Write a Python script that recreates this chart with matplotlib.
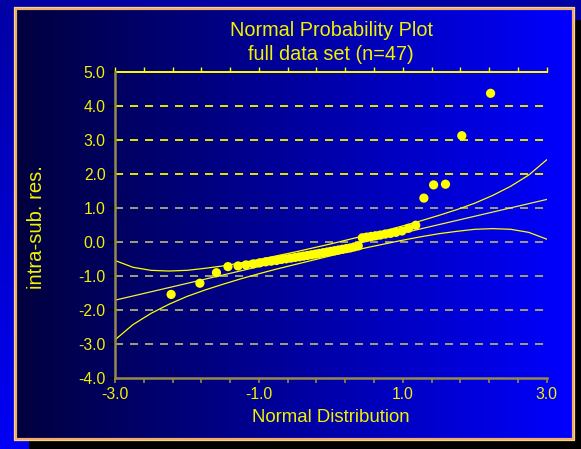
import numpy as np
import matplotlib
matplotlib.use("Agg")
import matplotlib.pyplot as plt
from matplotlib.patches import Rectangle

plt.rcParams['font.family'] = ['Liberation Sans', 'DejaVu Sans']
plt.rcParams['lines.scale_dashes'] = False

# ---- data -------------------------------------------------------------
# normal scores (x) and intra-subject residuals (y), n = 47
normal_scores = [-2.22, -1.82, -1.59, -1.43, -1.29, -1.18, -1.08, -0.99, -0.905, -0.83,
                 -0.756, -0.687, -0.621, -0.558, -0.497, -0.438, -0.38, -0.324, -0.268,
                 -0.213, -0.16, -0.106, -0.053, 0.0, 0.053, 0.106, 0.16, 0.213, 0.268,
                 0.324, 0.381, 0.438, 0.497, 0.558, 0.621, 0.687, 0.756, 0.829, 0.905,
                 0.988, 1.079, 1.18, 1.293, 1.428, 1.593, 1.82, 2.22]
residuals = [-1.55, -1.22, -0.91, -0.73, -0.71, -0.68, -0.65, -0.62, -0.59, -0.57,
             -0.55, -0.52, -0.50, -0.48, -0.46, -0.44, -0.42, -0.40, -0.38,
             -0.36, -0.34, -0.32, -0.30, -0.28, -0.26, -0.24, -0.22, -0.20, -0.18,
             -0.15, -0.12, 0.12, 0.14, 0.16, 0.18, 0.20, 0.23, 0.25, 0.28,
             0.32, 0.40, 0.49, 1.29, 1.68, 1.70, 3.13, 4.38]

# reference line (end points)
line_x = [-3.0, 3.0]
line_y = [-1.72, 1.25]

# confidence band
band_x = [-3.0, -2.75, -2.5, -2.25, -2.0, -1.75, -1.5, -1.25, -1.0, -0.75, -0.5, -0.25,
          0.0, 0.25, 0.5, 0.75, 1.0, 1.25, 1.5, 1.75, 2.0, 2.25, 2.5, 2.75, 3.0]
band_upper = [-0.55, -0.75, -0.84, -0.86, -0.84, -0.78, -0.71, -0.62, -0.52, -0.41, -0.30,
              -0.18, -0.06, 0.07, 0.20, 0.33, 0.47, 0.62, 0.78, 0.95, 1.14, 1.37, 1.64,
              1.97, 2.42]
band_lower = [-2.89, -2.44, -2.11, -1.84, -1.61, -1.42, -1.25, -1.09, -0.94, -0.80, -0.67,
              -0.54, -0.41, -0.29, -0.17, -0.06, 0.05, 0.15, 0.24, 0.31, 0.37, 0.39, 0.37,
              0.28, 0.08]

x_major = [-3.0, -1.0, 1.0, 3.0]
x_minor = [-3.0, -2.6, -2.2, -1.8, -1.4, -1.0, -0.6, -0.2, 0.2, 0.6, 1.0, 1.4, 1.8,
           2.2, 2.6, 3.0]
y_ticks = [-4.0, -3.0, -2.0, -1.0, 0.0, 1.0, 2.0, 3.0, 4.0, 5.0]

# ---- colours ----------------------------------------------------------
YELLOW = '#ffff00'
TEXT_YELLOW = '#f2f200'
GRID_YELLOW = '#e6e600'
GRID_GREY = '#a09f78'
KHAKI = '#958a48'

W, H = 581, 449
fig = plt.figure(figsize=(W / 100, H / 100), dpi=100)

# ---- slide background -------------------------------------------------
bg = fig.add_axes([0, 0, 1, 1])
bg.set_xlim(0, W)
bg.set_ylim(H, 0)
bg.axis('off')

vert = np.linspace(0, 1, 256)[:, None]
outer = np.zeros((256, 2, 3))
outer[..., 2] = (0.64 + 0.32 * vert)
bg.imshow(outer, extent=[0, W, H, 0], aspect='auto', zorder=0)

# drop shadow
bg.add_patch(Rectangle((29, 20), W, H, facecolor='black', edgecolor='none', zorder=1))

# panel with horizontal gradient
horiz = np.linspace(0, 1, 512)[None, :]
panel = np.zeros((2, 512, 3))
panel[..., 2] = 0.24 + 0.76 * horiz
bg.imshow(panel, extent=[14, 573, 439, 7], aspect='auto', zorder=2)
bg.add_patch(Rectangle((14.5, 7.5), 558, 431, facecolor='none',
                       edgecolor='#efae66', linewidth=2.3, zorder=3))
bg.add_patch(Rectangle((13.5, 6.5), 560, 433, facecolor='none',
                       edgecolor='#f7cf98', linewidth=0.8, zorder=3))

# ---- plot area --------------------------------------------------------
left, right, top, bottom = 115, 546.7, 72.3, 377.5
ax = fig.add_axes([left / W, 1 - bottom / H, (right - left) / W, (bottom - top) / H])
ax.set_facecolor('none')
ax.set_xlim(-3.0, 3.0)
ax.set_ylim(-4.0, 5.0)

# horizontal dashed grid
for yv in y_ticks[1:-1]:
    ax.axhline(yv, color=GRID_YELLOW if yv >= 2 else GRID_GREY, linewidth=1.4,
               linestyle=(0, (5.8, 5.0)), zorder=1)

ax.plot(band_x, band_upper, color=YELLOW, linewidth=0.9, zorder=2)
ax.plot(band_x, band_lower, color=YELLOW, linewidth=0.9, zorder=2)
ax.plot(line_x, line_y, color='#f0f040', linewidth=0.9, zorder=2)
ax.scatter(normal_scores, residuals, s=44, color=YELLOW, edgecolors='none', zorder=3)

# spines
ax.spines['right'].set_visible(False)
ax.spines['top'].set_visible(False)
ax.spines['left'].set_color(KHAKI)
ax.spines['left'].set_linewidth(1.8)
ax.spines['bottom'].set_color(KHAKI)
ax.spines['bottom'].set_linewidth(1.8)

# x axis: labels every 2.0, ticks every 0.4
ax.set_xticks(x_major)
ax.set_xticklabels([f'{v:.1f}' for v in x_major])
ax.set_xticks(x_minor, minor=True)
ax.tick_params(axis='x', which='both', direction='out', length=3.8, width=1.2,
               color=KHAKI, labelcolor=TEXT_YELLOW, labelsize=11.3, pad=3.0)

# top axis: yellow line with upward ticks
top_ax = ax.secondary_xaxis('top')
top_ax.set_xticks(x_minor)
top_ax.set_xticklabels([])
top_ax.spines['top'].set_color(YELLOW)
top_ax.spines['top'].set_linewidth(1.4)
top_ax.tick_params(axis='x', direction='out', length=3.6, width=1.0, color=YELLOW)

# y axis
ax.set_yticks(y_ticks)
ax.set_yticklabels([f'{v:.1f}' for v in y_ticks])
ax.tick_params(axis='y', which='both', direction='out', length=4.6, width=1.4,
               labelcolor=TEXT_YELLOW, labelsize=11.3, pad=2.2)
for t, yv in zip(ax.yaxis.get_major_ticks(), y_ticks):
    t.tick1line.set_color(GRID_YELLOW if yv >= 2 else GRID_GREY)

# ---- titles -----------------------------------------------------------
fig.text(331 / W, 1 - 30 / H, 'Normal Probability Plot', color=TEXT_YELLOW,
         fontsize=14.3, ha='center', va='center')
fig.text(331 / W, 1 - 54 / H, 'full data set (n=47)', color=TEXT_YELLOW,
         fontsize=14.3, ha='center', va='center')
fig.text(331 / W, 1 - 418 / H, 'Normal Distribution', color=TEXT_YELLOW,
         fontsize=13.4, ha='center', va='center')
fig.text(37 / W, 1 - 227 / H, 'intra-sub. res.', color=TEXT_YELLOW,
         fontsize=14.6, ha='center', va='center', rotation=90)

fig.savefig('out.png', dpi=100)
